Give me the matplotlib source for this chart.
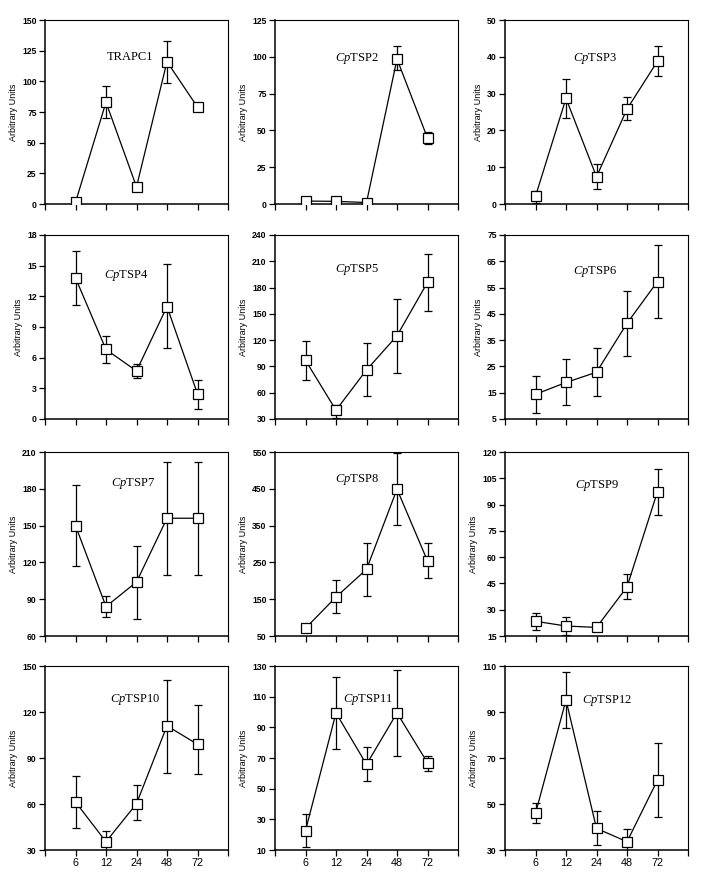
import matplotlib
matplotlib.use("Agg")
import matplotlib.pyplot as plt
import numpy as np

plt.rcParams['mathtext.fontset'] = 'custom'
plt.rcParams['mathtext.rm'] = 'Liberation Serif'
plt.rcParams['mathtext.it'] = 'Liberation Serif:italic'

hours = ["6", "12", "24", "48", "72"]

names = ["TRAPC1", r"$\mathit{Cp}$TSP2", r"$\mathit{Cp}$TSP3",
         r"$\mathit{Cp}$TSP4", r"$\mathit{Cp}$TSP5", r"$\mathit{Cp}$TSP6",
         r"$\mathit{Cp}$TSP7", r"$\mathit{Cp}$TSP8", r"$\mathit{Cp}$TSP9",
         r"$\mathit{Cp}$TSP10", r"$\mathit{Cp}$TSP11", r"$\mathit{Cp}$TSP12"]

trapc1_mean = [1.4, 83, 14, 116, 79]
trapc1_lo = [0, 13, 0, 17, 0]
trapc1_hi = [0, 13, 0, 17, 0]

tsp2_mean = [2.0, 1.8, 1.0, 98.5, 44.8]
tsp2_lo = [0, 0, 0, 7.5, 4.0]
tsp2_hi = [0, 0, 0, 8.5, 4.2]

tsp3_mean = [2.1, 28.7, 7.4, 25.8, 38.8]
tsp3_lo = [1.7, 5.2, 3.3, 3.0, 4.1]
tsp3_hi = [1.5, 5.2, 3.5, 3.2, 4.1]

tsp4_mean = [13.8, 6.8, 4.7, 11.0, 2.45]
tsp4_lo = [2.6, 1.3, 0.65, 4.1, 1.45]
tsp4_hi = [2.6, 1.3, 0.65, 4.15, 1.4]

tsp5_mean = [97, 40, 86, 125, 186]
tsp5_lo = [22, 9, 30, 42, 33]
tsp5_hi = [22, 6, 31, 42, 32]

tsp6_mean = [14.4, 18.9, 22.8, 41.4, 57.3]
tsp6_lo = [7.0, 8.7, 8.9, 12.6, 13.7]
tsp6_hi = [7.1, 8.8, 9.2, 12.3, 14.0]

tsp7_mean = [150, 84, 104, 156, 156]
tsp7_lo = [33, 8.3, 30, 46, 46]
tsp7_hi = [33, 8.4, 29, 46, 46]

tsp8_mean = [71, 156, 231, 449, 254]
tsp8_lo = [0, 44, 72, 98, 46]
tsp8_hi = [0, 46, 72, 99, 48]

tsp9_mean = [23.4, 20.7, 19.9, 43.0, 97.4]
tsp9_lo = [4.8, 4.9, 0, 7.1, 13.5]
tsp9_hi = [4.9, 5.0, 0, 7.4, 13.1]

tsp10_mean = [61.3, 35.4, 60.2, 111, 98.9]
tsp10_lo = [17, 6.5, 10.6, 30.6, 19.1]
tsp10_hi = [17, 6.8, 12.0, 30.0, 25.4]

tsp11_mean = [22.6, 99.4, 65.8, 99.4, 66.9]
tsp11_lo = [10.6, 23.4, 10.7, 27.8, 5.3]
tsp11_hi = [10.6, 23.4, 11.5, 28.2, 4.3]

tsp12_mean = [45.9, 95.2, 39.4, 33.6, 60.4]
tsp12_lo = [4.3, 12.3, 7.4, 5.7, 15.9]
tsp12_hi = [4.4, 12.2, 7.6, 5.7, 16.0]

means = [trapc1_mean, tsp2_mean, tsp3_mean, tsp4_mean, tsp5_mean, tsp6_mean,
         tsp7_mean, tsp8_mean, tsp9_mean, tsp10_mean, tsp11_mean, tsp12_mean]
los = [trapc1_lo, tsp2_lo, tsp3_lo, tsp4_lo, tsp5_lo, tsp6_lo,
       tsp7_lo, tsp8_lo, tsp9_lo, tsp10_lo, tsp11_lo, tsp12_lo]
his = [trapc1_hi, tsp2_hi, tsp3_hi, tsp4_hi, tsp5_hi, tsp6_hi,
       tsp7_hi, tsp8_hi, tsp9_hi, tsp10_hi, tsp11_hi, tsp12_hi]

ylims = [(0, 150, 25), (0, 125, 25), (0, 50, 10),
         (0, 18, 3), (30, 240, 30), (5, 75, 10),
         (60, 210, 30), (50, 550, 100), (15, 120, 15),
         (30, 150, 30), (10, 130, 20), (30, 110, 20)]

title_pos = [(0.34, 0.80), (0.33, 0.79), (0.37, 0.79),
             (0.32, 0.78), (0.33, 0.81), (0.37, 0.80),
             (0.36, 0.83), (0.33, 0.85), (0.38, 0.82),
             (0.355, 0.82), (0.37, 0.82), (0.42, 0.81)]

W, H = 706, 882
fig = plt.figure(figsize=(W / 100, H / 100), dpi=100)

col_left = [45, 275, 505]
row_bottom = [204, 419, 636, 850]
ax_w, ax_h = 183, 184

x = np.arange(1, 6)
for i in range(12):
    r, c = divmod(i, 3)
    ax = fig.add_axes([col_left[c] / W, 1 - row_bottom[r] / H, ax_w / W, ax_h / H])
    m = np.array(means[i], dtype=float)
    lo = np.array(los[i], dtype=float)
    hi = np.array(his[i], dtype=float)
    mask = (lo > 0) | (hi > 0)
    ax.errorbar(x[mask], m[mask], yerr=[lo[mask], hi[mask]], fmt='none',
                ecolor='black', elinewidth=0.9, capsize=3.2, capthick=0.9, zorder=2)
    ax.plot(x, m, '-', color='black', lw=0.9, marker='s', markersize=6.5,
            markerfacecolor='white', markeredgecolor='black', markeredgewidth=0.9, zorder=3)
    y0, y1, st = ylims[i]
    ax.set_ylim(y0, y1)
    ax.set_yticks(np.arange(y0, y1 + st / 2, st))
    ax.set_xlim(0, 6)
    ax.set_xticks(np.arange(0, 7))
    if r == 3:
        ax.set_xticklabels([""] + hours + [""], fontsize=7.8, family='Liberation Sans')
    else:
        ax.set_xticklabels([])
    for lab in ax.get_yticklabels():
        lab.set_fontsize(6.2)
        lab.set_fontweight('bold')
        lab.set_family('Liberation Sans')
    ax.tick_params(direction='out', length=4, width=0.9, pad=2)
    ax.set_ylabel("Arbitrary Units", fontsize=6.5, family='Liberation Sans', labelpad=3)
    for s in ['left', 'bottom']:
        ax.spines[s].set_linewidth(1.1)
    for s in ['top', 'right']:
        ax.spines[s].set_linewidth(0.8)
    tx, ty = title_pos[i]
    ax.text(tx, ty, names[i], transform=ax.transAxes, fontsize=9,
            family='Liberation Serif', ha='left', va='center')

fig.savefig("out.png", dpi=100)
